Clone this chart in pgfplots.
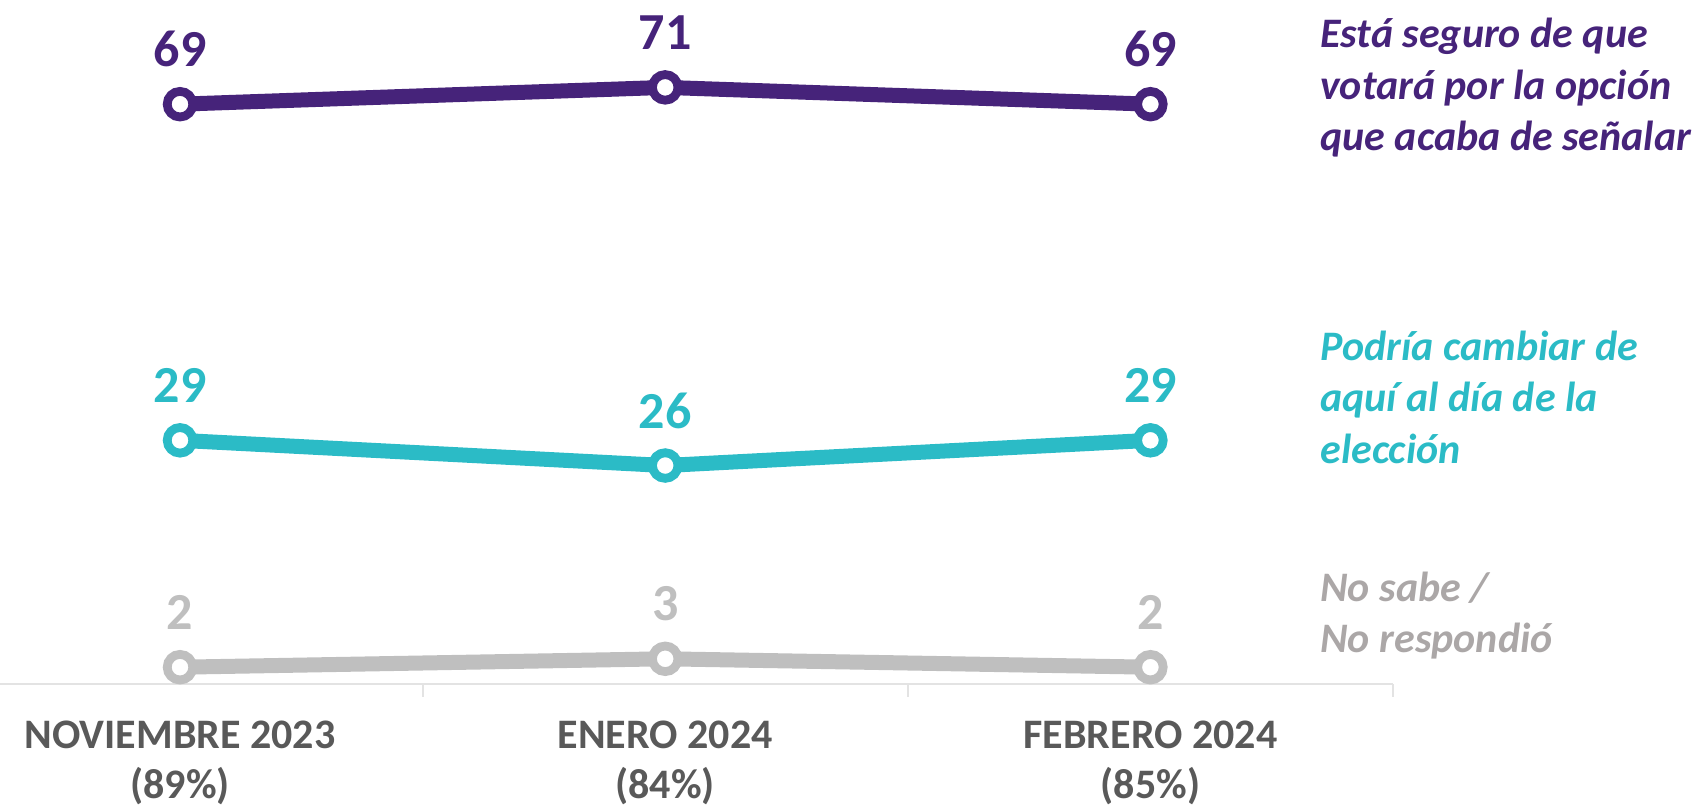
\documentclass[border=0pt]{standalone}
\usepackage{pgfplots}
\pgfplotsset{compat=1.18}
\usepackage{fontspec}
\setmainfont{Carlito}
\definecolor{cpurple}{HTML}{46237A}
\definecolor{cteal}{HTML}{2BBBC6}
\definecolor{cgray}{HTML}{BFBFBF}
\definecolor{cgraytxt}{HTML}{ABA7A7}
\definecolor{ctick}{HTML}{595959}
\definecolor{caxis}{HTML}{E3E3E3}
\begin{document}
\begin{tikzpicture}
\path[use as bounding box] (0,-63pt) rectangle (850pt,342pt);
\begin{axis}[
 at={(0,0)}, anchor=south west, scale only axis,
 width=696.5pt, height=342pt,
 xmin=-0.371, xmax=2.5, ymin=0, ymax=81.4,
 clip=false,
 axis y line=none, axis x line*=bottom,
 x axis line style={draw=caxis, line width=1pt, -},
 xtick={0,1,2},
 xticklabels={{NOVIEMBRE 2023\\(89\%)},{ENERO 2024\\(84\%)},{FEBRERO 2024\\(85\%)}},
 major tick length=0pt,
 major x tick style={draw=none},
 minor xtick={0.5,1.5,2.5},
 minor x tick style={draw=caxis, line width=1pt},
 minor tick length=6.5pt,
 tick align=outside,
 xticklabel style={align=center, font=\fontsize{21}{25}\selectfont\bfseries, text=ctick, anchor=north, inner sep=0pt, yshift=-18.5pt},
 /pgf/number format/assume math mode=true,
 nodes near coords,
 every node near coord/.append style={anchor=center, yshift=27.5pt, font=\fontsize{26}{30}\selectfont\bfseries, /pgf/number format/assume math mode=true},
]
\addplot[cgray, line width=7.5pt, mark=*, mark size=6.4pt,
 mark options={fill=white, draw=cgray, line width=4.4pt},
 every node near coord/.append style={text=cgray}]
 coordinates {(0,2) (1,3) (2,2)};
\addplot[cteal, line width=7.5pt, mark=*, mark size=6.4pt,
 mark options={fill=white, draw=cteal, line width=4.4pt},
 every node near coord/.append style={text=cteal}]
 coordinates {(0,29) (1,26) (2,29)};
\addplot[cpurple, line width=7.5pt, mark=*, mark size=6.4pt,
 mark options={fill=white, draw=cpurple, line width=4.4pt},
 every node near coord/.append style={text=cpurple}]
 coordinates {(0,69) (1,71) (2,69)};
\end{axis}
\begin{scope}[every node/.style={anchor=west, inner sep=0pt, align=left, font=\fontsize{21}{25.75}\selectfont\bfseries\itshape}]
\node[text=cpurple] at (660pt,298pt) {Está seguro de que\\votará por la opción\\que acaba de señalar};
\node[text=cteal] at (660pt,143.5pt) {Podría cambiar de\\aquí al día de la\\elección};
\node[text=cgraytxt] at (660pt,34.25pt) {No sabe /\\No respondió};
\end{scope}
\end{tikzpicture}
\end{document}
